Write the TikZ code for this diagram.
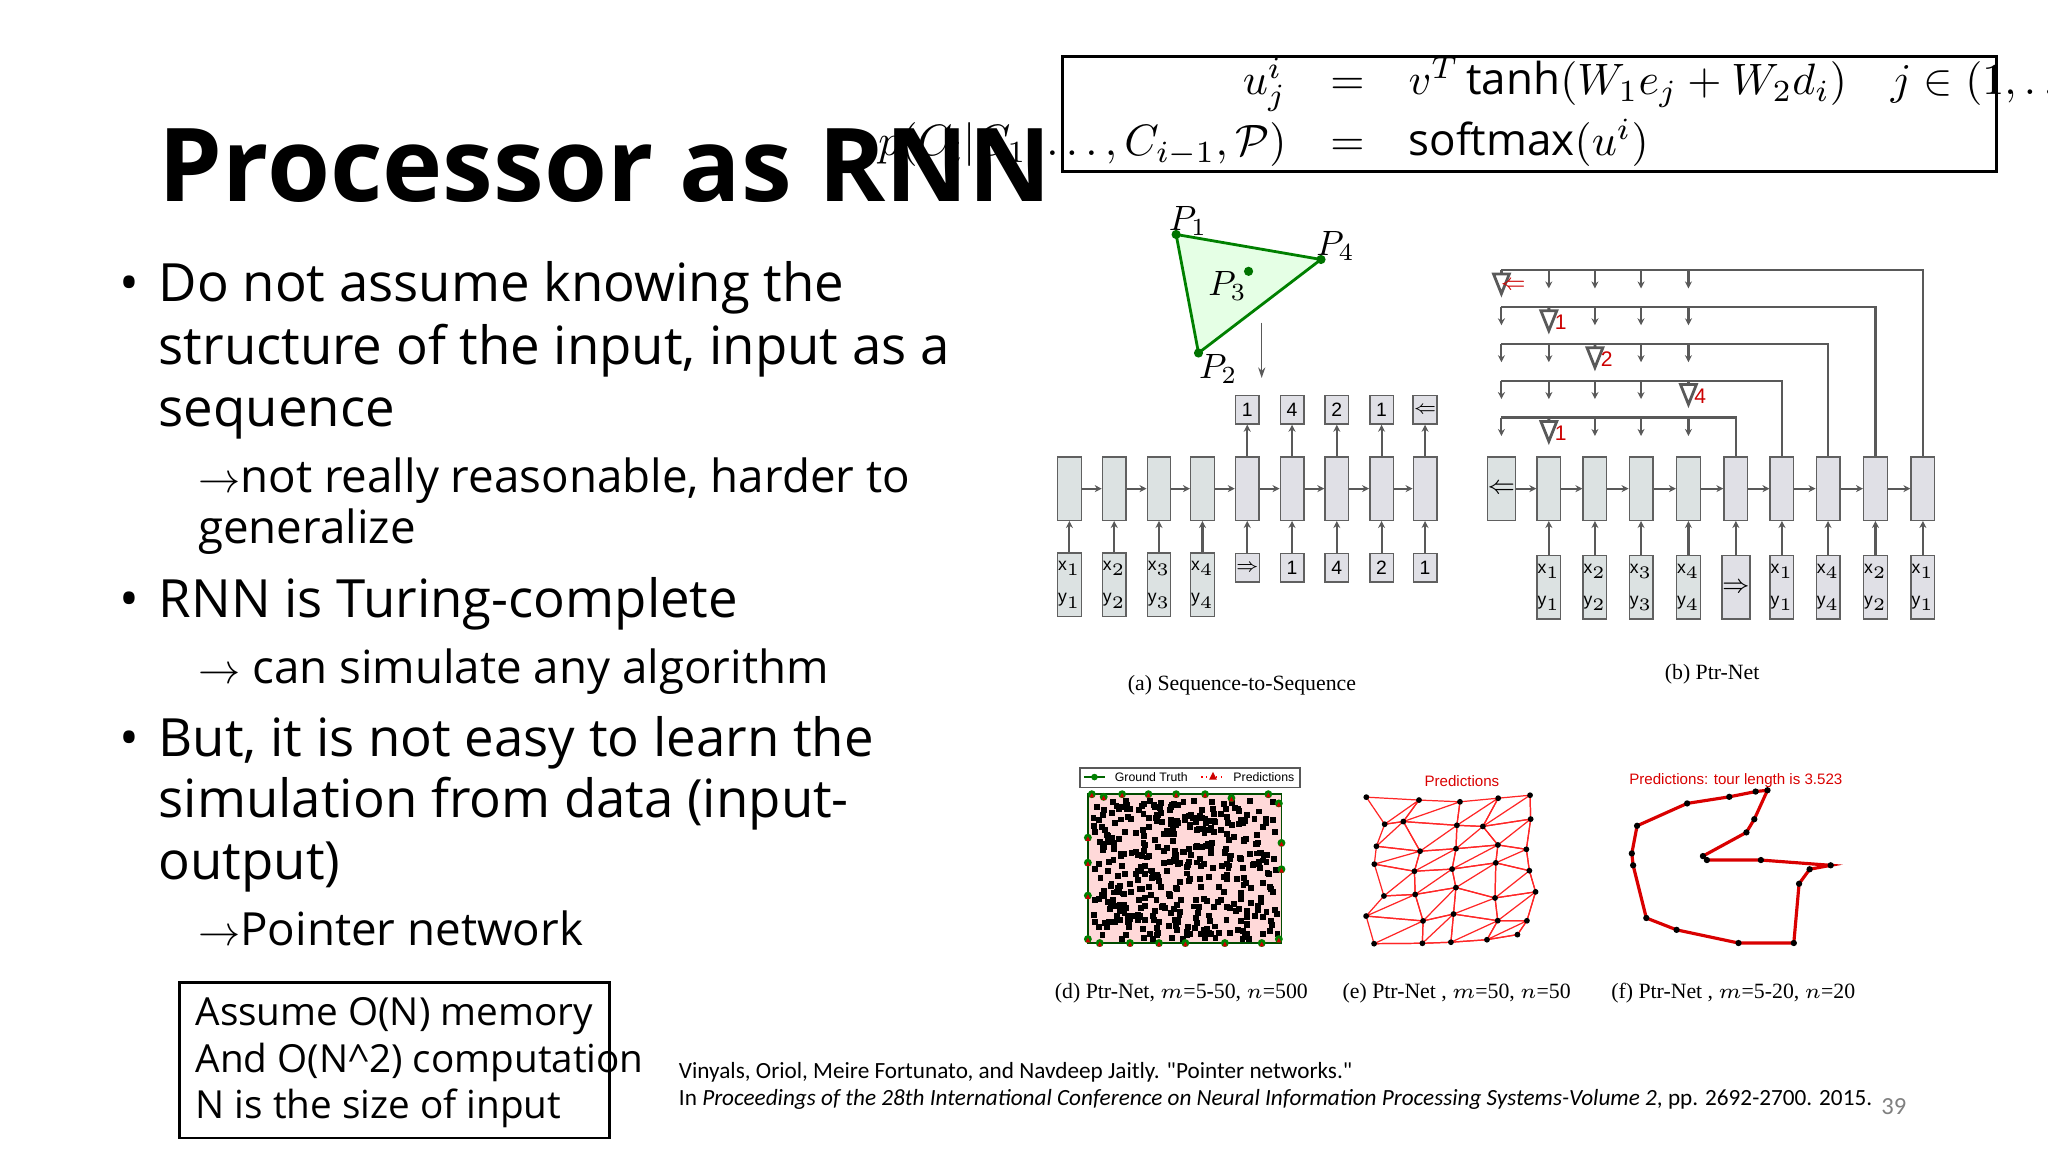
\documentclass[tikz,border=0pt]{standalone}
\usepackage{fontspec}
\usetikzlibrary{arrows.meta}
\setmainfont{Open Sans}
\newfontfamily\capfont{Liberation Serif}
\newfontfamily\citefont{Carlito}
\newfontfamily\smallsans{Liberation Sans}
\begin{document}
\begin{tikzpicture}[x=0.01317cm,y=-0.01317cm,
  txt/.style={anchor=base west,inner sep=0pt,font=\fontsize{15}{18}\selectfont},
  tallG/.style={draw=gray!75!black,fill=green!8!cyan!10!gray!25,minimum width=6.7pt,minimum height=18pt,inner sep=0pt},
  tallP/.style={draw=gray!75!black,fill=blue!12!gray!22,minimum width=6.7pt,minimum height=18pt,inner sep=0pt},
  inG/.style={tallG,font=\smallsans\fontsize{5}{5.5}\selectfont},
  inP/.style={tallP,font=\smallsans\fontsize{5}{5.5}\selectfont},
  smP/.style={tallP,minimum height=8.2pt,font=\smallsans\fontsize{5.5}{6}\selectfont},
  arr/.style={-{Stealth[length=2pt,width=2pt]},draw=gray!70!black,semithick},
  captext/.style={font=\capfont\fontsize{6.2}{7}\selectfont}]
\useasboundingbox (0,0) rectangle (1555,875);
% title and bullets
\node[anchor=base west,inner sep=0pt,font=\bfseries\fontsize{29}{32}\selectfont] (title) at (120,153) {Processor as RNN};
\node[txt] (b1) at (90,229) {\textbullet};
\node[txt] (l1) at (120,229) {Do not assume knowing the};
\node[txt] (l2) at (120,277) {structure of the input, input as a};
\node[txt] (l3) at (120,324) {sequence};
\node[txt,font=\fontsize{13}{16}\selectfont] (l4) at (150,374) {$\rightarrow$not really reasonable, harder to};
\node[txt,font=\fontsize{13}{16}\selectfont] (l5) at (150,413) {generalize};
\node[txt] (b2) at (90,469) {\textbullet};
\node[txt] (l6) at (120,469) {RNN is Turing-complete};
\node[txt,font=\fontsize{13}{16}\selectfont] (l7) at (150,519) {$\rightarrow$ can simulate any algorithm};
\node[txt] (b3) at (90,574) {\textbullet};
\node[txt] (l8) at (120,574) {But, it is not easy to learn the};
\node[txt] (l9) at (120,621) {simulation from data (input-};
\node[txt] (l10) at (120,668) {output)};
\node[txt,font=\fontsize{13}{16}\selectfont] (l11) at (150,718) {$\rightarrow$Pointer network};
\draw[thick] (136,746) rectangle (463,864);
\node[txt,font=\fontsize{11}{13}\selectfont] (m1) at (148,779) {Assume O(N) memory};
\node[txt,font=\fontsize{11}{13}\selectfont] (m2) at (148,814) {And O(N\textasciicircum2) computation};
\node[txt,font=\fontsize{11}{13}\selectfont] (m3) at (148,849) {N is the size of input};
\node[anchor=base west,inner sep=0pt,font=\citefont\fontsize{6.6}{8}\selectfont] (c1) at (515,819) {Vinyals, Oriol, Meire Fortunato, and Navdeep Jaitly. "Pointer networks."};
\node[anchor=base west,inner sep=0pt,font=\citefont\fontsize{6.6}{8}\selectfont] (c2) at (515,839) {In \textit{Proceedings of the 28th International Conference on Neural Information Processing Systems-Volume 2}, pp. 2692-2700. 2015.};
\node[anchor=base west,inner sep=0pt,font=\citefont\fontsize{7}{8}\selectfont,text=gray] (pg) at (1428,846) {39};
% formula
\draw[thick] (807,43) rectangle (1516,130);
\node (eq) at (1148,87) {\scalebox{1.25}{$\begin{array}{rcl} u^i_j &=& v^T\tanh(W_1e_j+W_2d_i)\quad j\in(1,\ldots,n)\\[2pt] p(C_i|C_1,\ldots,C_{i-1},\mathcal{P}) &=& \mathrm{softmax}(u^i)\end{array}$}};
% triangle
\coordinate (P1) at (893,178); \coordinate (P4) at (1003,197); \coordinate (P2) at (910,268);
\draw[fill=green!10,draw=green!50!black,thick] (P1) -- (P4) -- (P2) -- cycle;
\foreach \p in {P1,P2,P4} \fill[green!45!black] (\p) circle (3.5);
\fill[green!45!black] (948,206) circle (3.5);
\node (t1) at (902,168) {$P_1$};
\node (t4) at (1014,187) {$P_4$};
\node (t3) at (932,217) {$P_3$};
\node (t2) at (925,280) {$P_2$};
\coordinate (da) at (958,245); \coordinate (db) at (958,287);
\draw[-{Stealth[length=3pt,width=2pt]},gray!70!black] (da) -- (db);
% seq2seq
\foreach \x [count=\i] in {812,846,880,913}{
  \node[tallG] (sa\i) at (\x,371) {};
  \node[inG] (si\i) at (\x,444) {\shortstack{x$_{\i}$\\[2pt]y$_{\i}$}};
  \draw[arr] (si\i) -- (sa\i);}
\foreach \x/\o/\n [count=\i from 5] in {947/1/{$\Rightarrow$},981/4/1,1015/2/4,1049/1/2,1082/{$\Leftarrow$}/1}{
  \node[tallP] (sa\i) at (\x,371) {};
  \node[smP] (so\i) at (\x,311) {\o};
  \node[smP] (si\i) at (\x,431) {\n};
  \draw[arr] (si\i) -- (sa\i);
  \draw[arr] (sa\i) -- (so\i);}
\foreach \i [evaluate=\i as \j using int(\i+1)] in {1,...,8} \draw[arr] (sa\i) -- (sa\j);
\node[captext] (capa) at (943,520) {(a) Sequence-to-Sequence};
% ptr-net
\node[tallG,font=\fontsize{7}{7}\selectfont] (pa0) at (1140,371) {$\Leftarrow$};
\foreach \x [count=\i] in {1176,1211,1246,1282}{
  \node[tallG] (pa\i) at (\x,371) {};
  \node[inG] (pi\i) at (\x,446) {\shortstack{x$_{\i}$\\[2pt]y$_{\i}$}};
  \draw[arr] (pi\i) -- (pa\i);}
\node[tallP] (pa5) at (1318,371) {};
\node[inP,font=\fontsize{7}{7}\selectfont] (pi5) at (1318,446) {$\Rightarrow$};
\draw[arr] (pi5) -- (pa5);
\foreach \x/\k [count=\i from 6] in {1353/1,1388/4,1424/2,1460/1}{
  \node[tallP] (pa\i) at (\x,371) {};
  \node[inP] (pi\i) at (\x,446) {\shortstack{x$_{\k}$\\[2pt]y$_{\k}$}};
  \draw[arr] (pi\i) -- (pa\i);}
\foreach \i [evaluate=\i as \j using int(\i+1)] in {0,...,8} \draw[arr] (pa\i) -- (pa\j);
\foreach \y/\t/\px/\lab [count=\r] in {205/9/1140/{$\Leftarrow$},233/8/1176/1,261/7/1211/2,289/6/1282/4,317/5/1176/1}{
  \coordinate (rs\r) at (1140,\y);
  \draw[gray!70!black,semithick] (rs\r) -| (pa\t.north);
  \foreach \x in {1140,1176,1211,1246,1282}{
    \ifnum\x=\px
      \draw[gray!70!black,thick] (\x,\y) -- (\x,\y+3) (\x-6,\y+3) -- (\x+6,\y+3) -- (\x,\y+18) -- cycle;
      \node[text=red!80!black,font=\smallsans\fontsize{6}{6}\selectfont,inner sep=0pt] at (\x+9,\y+12) {\lab};
    \else
      \draw[arr] (\x,\y) -- (\x,\y+14);
    \fi}}
\node[captext] (capb) at (1300,512) {(b) Ptr-Net};
% (d)
\draw[gray!70!black,fill=white] (820,583) rectangle (987,598);
\draw[green!40!black] (823,590) -- (839,590); \fill[green!50!black] (831,590) circle (2.5);
\node[anchor=west,inner sep=0pt,font=\smallsans\fontsize{3.5}{4}\selectfont] (lg1) at (846,590) {Ground Truth};
\draw[red,densely dotted] (912,590) -- (930,590); \fill[red!80!black] (918,592) -- (924,592) -- (921,586) -- cycle;
\node[anchor=west,inner sep=0pt,font=\smallsans\fontsize{3.5}{4}\selectfont] (lg2) at (936,590) {Predictions};
\fill[red!15!white,draw=green!30!black] (826,603) rectangle (973,716);
\pgfmathsetseed{7}
\foreach \i in {1,...,420}{
  \pgfmathsetmacro\rx{828+140*rnd}
  \pgfmathsetmacro\ry{605+106*rnd}
  \fill (\rx,\ry) rectangle ++(4.5,4.5);}
\foreach \x/\y in {829/603,838/605,852/603,872/603,893/603,915/603,935/606,963/603,971/610,826/636,826/655,826/680,826/713,835/716,858/716,880/716,900/716,930/716,958/716,971/713,973/660,973/640}{
  \fill[green!50!black] (\x,\y) circle (3); \fill[red!80!black] (\x-1.8,\y+2.5) -- (\x+1.8,\y+2.5) -- (\x,\y-1) -- cycle;}
\node[captext] (capd) at (897,754) {(d) Ptr-Net, $m$=5-50, $n$=500};
% (e)
\node[text=red!85!black,font=\smallsans\fontsize{4.3}{5}\selectfont] (pe) at (1110,593) {Predictions};
\pgfmathsetseed{3}
\foreach \c in {0,...,4}{\foreach \r in {0,...,6}{
  \pgfmathsetmacro\ex{1044+\c*29+(rnd-0.5)*16}
  \pgfmathsetmacro\ey{607+\r*17.5+(rnd-0.5)*10}
  \coordinate (e-\c-\r) at (\ex,\ey);}}
\foreach \c [evaluate=\c as \cn using int(\c+1)] in {0,...,3}{\foreach \r [evaluate=\r as \rn using int(\r+1)] in {0,...,5}{
  \draw[red!85!white,line width=0.35pt] (e-\c-\r) -- (e-\cn-\r) -- (e-\c-\rn) -- cycle (e-\cn-\r) -- (e-\cn-\rn) -- (e-\c-\rn);}}
\foreach \r [evaluate=\r as \rn using int(\r+1)] in {0,...,5}{\draw[red!85!white,line width=0.35pt] (e-4-\r) -- (e-4-\rn);}
\foreach \c [evaluate=\c as \cn using int(\c+1)] in {0,...,3}\draw[red!85!white,line width=0.35pt] (e-\c-6) -- (e-\cn-6);
\foreach \c in {0,...,4}{\foreach \r in {0,...,6}{\fill (e-\c-\r) circle (2.2);}}
\node[captext] (cape) at (1106,754) {(e) Ptr-Net , $m$=50, $n$=50};
% (f)
\node[text=red!85!black,font=\smallsans\fontsize{4.3}{5}\selectfont] (pf) at (1318,593) {Predictions: tour length is 3.523};
\draw[red!85!black,line width=0.9pt] (1342,600) -- (1333,601) -- (1313,605) -- (1281,610) -- (1243,627) -- (1239,648) -- (1240,657) -- (1250,697) -- (1273,706) -- (1320,716) -- (1362,716) -- (1366,671) -- (1374,660) -- (1390,657) -- (1337,653) -- (1296,653) -- (1293,650) -- (1326,632) -- (1332,622) -- cycle;
\foreach \x/\y in {1342/600,1333/601,1313/605,1281/610,1243/627,1239/648,1240/657,1250/697,1273/706,1320/716,1362/716,1366/671,1374/660,1390/657,1337/653,1296/653,1293/650,1326/632,1332/622}\fill (\x,\y) circle (2.4);
\node[captext] (capf) at (1316,754) {(f) Ptr-Net , $m$=5-20, $n$=20};
\end{tikzpicture}
\end{document}
